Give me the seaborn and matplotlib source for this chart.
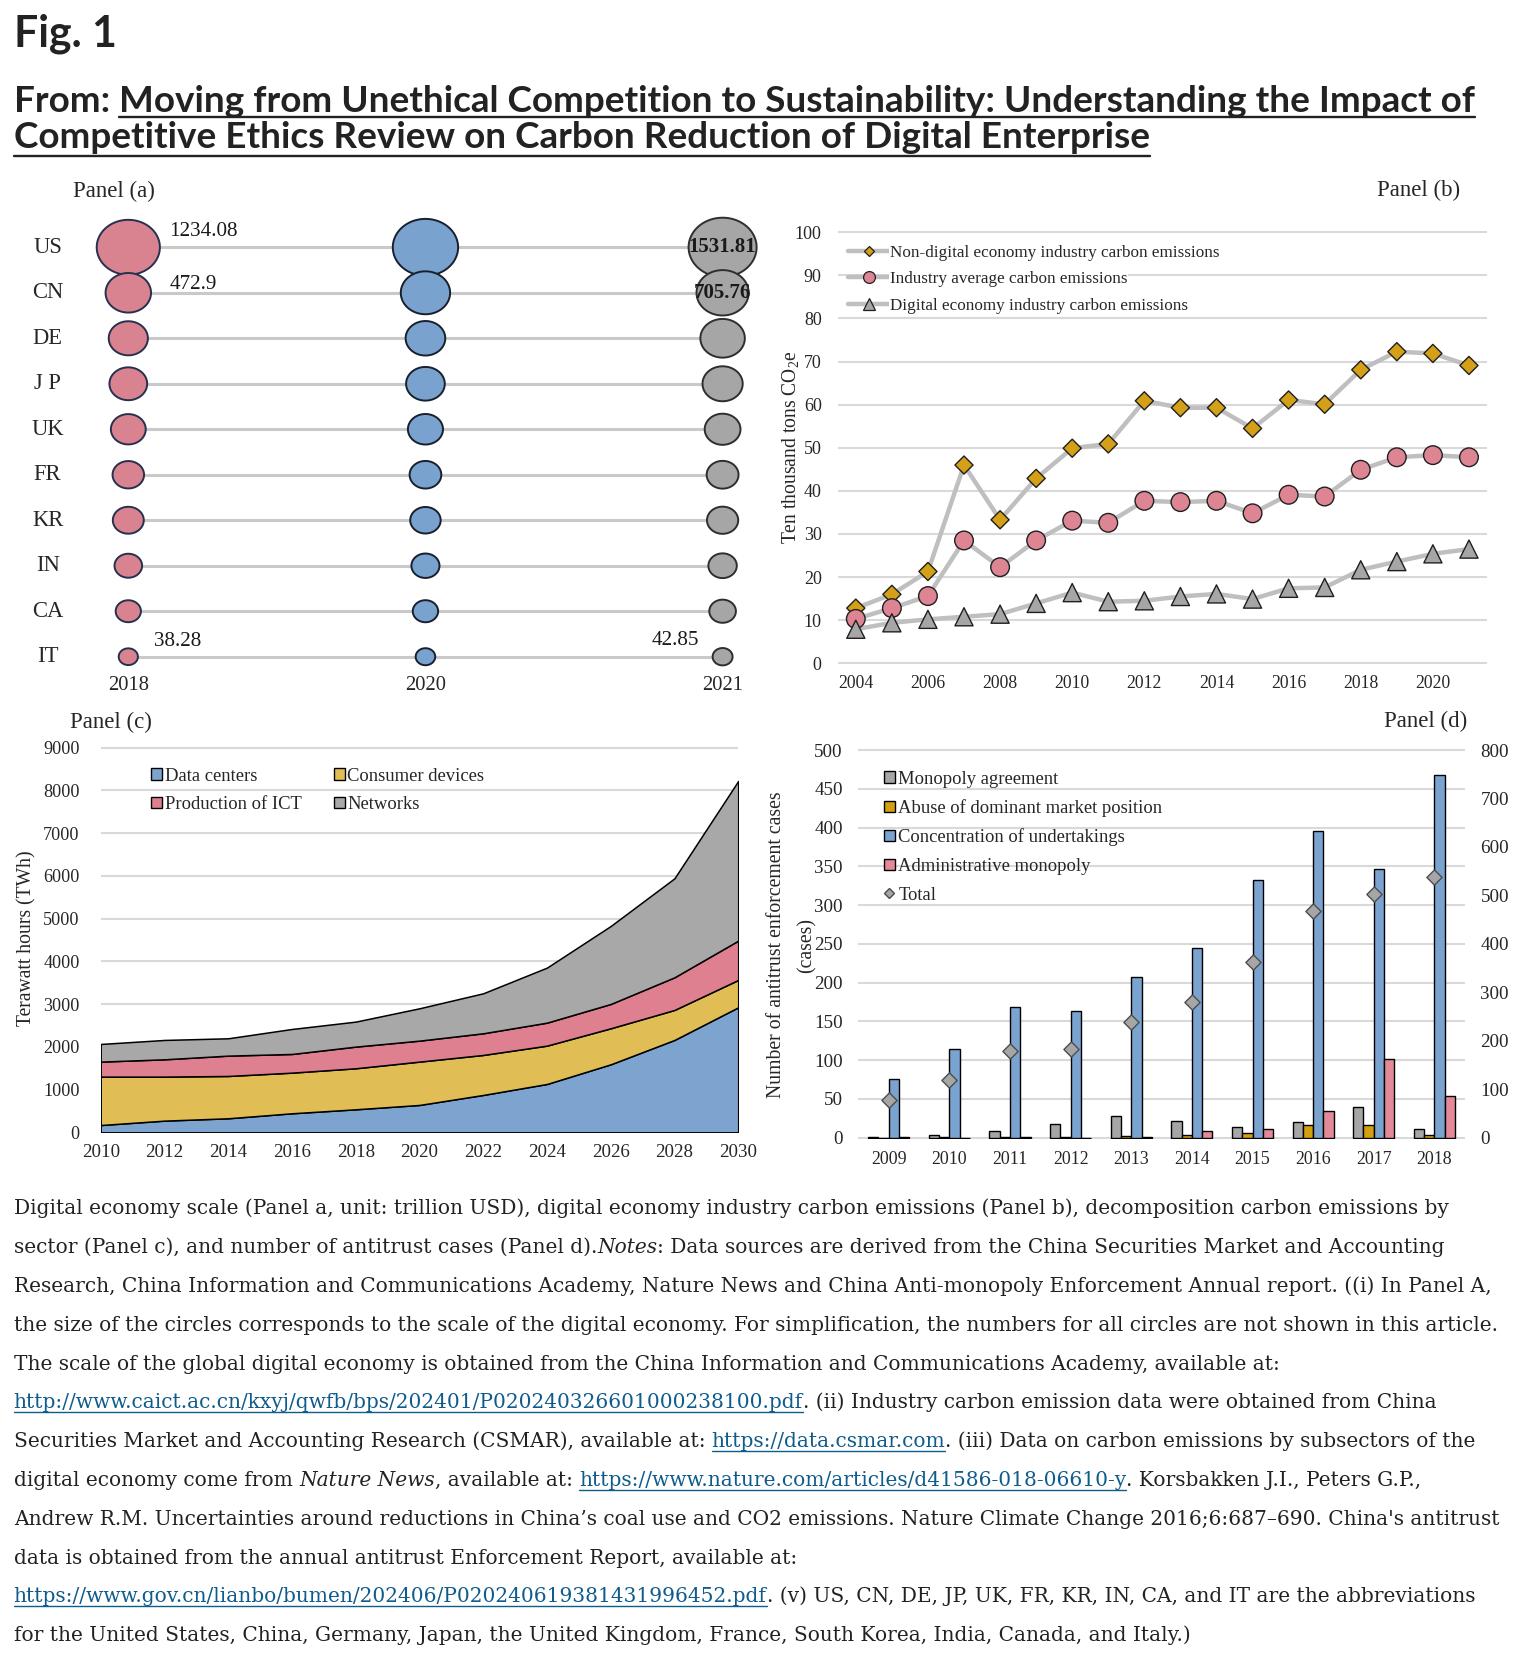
import numpy as np
import pandas as pd
import matplotlib
matplotlib.use("Agg")
import matplotlib.pyplot as plt
import seaborn as sns
from matplotlib.patches import Patch
from matplotlib.lines import Line2D
from matplotlib.path import Path

# ---------------- data ----------------
# Panel (a): digital economy scale
countries = ["US", "CN", "DE", "J P", "UK", "FR", "KR", "IN", "CA", "IT"]
years_a = ["2018", "2020", "2021"]
scale_2018 = [1234.08, 472.9, 306, 275, 218, 162, 154, 110, 85, 38.28]
scale_2020 = [1360, 600, 317, 295, 222, 165, 147, 116, 86, 40.5]
scale_2021 = [1531.81, 705.76, 443, 330, 235, 168, 158, 120, 99, 42.85]

# Panel (b): carbon emissions (ten thousand tons CO2e)
years_b = [2004, 2005, 2006, 2007, 2008, 2009, 2010, 2011, 2012,
           2013, 2014, 2015, 2016, 2017, 2018, 2019, 2020, 2021]
series_b = ["Non-digital economy industry carbon emissions",
            "Industry average carbon emissions",
            "Digital economy industry carbon emissions"]
non_digital = [12.8, 16.0, 21.3, 46.0, 33.3, 42.9, 49.9, 50.9, 60.9,
               59.3, 59.3, 54.5, 61.1, 60.1, 68.1, 72.3, 71.9, 69.1]
industry_avg = [10.3, 12.8, 15.6, 28.5, 22.3, 28.5, 33.1, 32.6, 37.7,
                37.4, 37.7, 34.8, 39.1, 38.7, 44.9, 47.8, 48.3, 47.8]
digital = [7.9, 9.4, 10.2, 10.8, 11.4, 13.9, 16.4, 14.3, 14.5,
           15.5, 16.1, 14.9, 17.4, 17.6, 21.7, 23.6, 25.4, 26.5]

# Panel (c): electricity use by sector (TWh)
years_c = [2010, 2012, 2014, 2016, 2018, 2020, 2022, 2024, 2026, 2028, 2030]
sectors_c = ["Data centers", "Consumer devices", "Production of ICT", "Networks"]
data_centers = [170, 273, 328, 445, 538, 640, 874, 1131, 1591, 2161, 2925]
consumer_devices = [1133, 1030, 990, 951, 960, 1014, 936, 897, 843, 702, 640]
production_ict = [351, 405, 476, 437, 507, 491, 507, 538, 569, 764, 920]
networks = [413, 453, 406, 585, 585, 757, 936, 1288, 1825, 2317, 3737]

# Panel (d): antitrust enforcement cases
years_d = ["2009", "2010", "2011", "2012", "2013", "2014", "2015", "2016", "2017", "2018"]
case_types = ["Monopoly agreement", "Abuse of dominant market position",
              "Concentration of undertakings", "Administrative monopoly"]
monopoly_agreement = [1, 4, 8, 18, 28, 22, 14, 20, 39, 11]
abuse_dominance = [0, 1, 1, 1, 2, 4, 6, 16, 16, 4]
concentration = [76, 114, 168, 163, 207, 245, 332, 396, 346, 468]
admin_monopoly = [1, 0, 1, 0, 1, 9, 11, 35, 102, 54]
total_cases = [78, 119, 178, 182, 238, 280, 363, 467, 503, 537]

# ---------------- setup ----------------
W, H, DPI = 1530, 1667, 100
sns.set_theme(style="white")
plt.rcParams["font.family"] = ["Liberation Serif", "DejaVu Serif"]
plt.rcParams["mathtext.default"] = "regular"

TXT = "#262626"
GRID = "#D9D9D9"
fig = plt.figure(figsize=(W / DPI, H / DPI), dpi=DPI, facecolor="white")


def add_ax(x0, y0, x1, y1):
    return fig.add_axes([x0 / W, 1 - y1 / H, (x1 - x0) / W, (y1 - y0) / H])


def lin(pa, va, pb, vb, v):
    return pa + (v - va) * (pb - pa) / (vb - va)


def ftext(x, y, s, **kw):
    return fig.text(x / W, 1 - y / H, s, **kw)


def clean(ax):
    for s in ax.spines.values():
        s.set_visible(False)
    ax.set_xlabel("")
    ax.set_ylabel("")


# ================= Panel (a) =================
AX0, AY0, ADX, ADY = 128.3, 247.3, 297.15, 45.49
ax_a = add_ax(0, 180, 760, 700)
df_a = pd.DataFrame({
    "country": countries * len(years_a),
    "row": list(range(len(countries))) * len(years_a),
    "year": np.repeat(years_a, len(countries)),
    "value": scale_2018 + scale_2020 + scale_2021,
})
df_a["pos"] = df_a["year"].map({y: i for i, y in enumerate(years_a)})
df_a["area"] = (5.5 * df_a["value"] ** 0.343 * 72 / DPI) ** 2
amin, amax = df_a["area"].min(), df_a["area"].max()

theta = np.linspace(0, 2 * np.pi, 73)
ellipse = Path(np.column_stack([np.cos(theta), 0.87 * np.sin(theta)]), closed=True)

ax_a.hlines(range(len(countries)), 0, len(years_a) - 1, colors="#C9C9C9", lw=2.2, zorder=1)
fills = {"2018": "#D98391", "2020": "#7AA2CE", "2021": "#A6A6A6"}
edges = {"2018": "#26304F", "2020": "#18202E", "2021": "#2E2E2E"}
for y in years_a:
    sub = df_a[df_a["year"] == y]
    sns.scatterplot(data=sub, x="pos", y="row", size="area", sizes=(amin, amax),
                    size_norm=(amin, amax), color=fills[y], edgecolor=edges[y],
                    linewidth=1.4, marker=ellipse, legend=False, ax=ax_a, zorder=3)
ax_a.set_xlim((0 - AX0) / ADX, (760 - AX0) / ADX)
ax_a.set_ylim((700 - AY0) / ADY, (180 - AY0) / ADY)
ax_a.axis("off")

for i, c in enumerate(countries):
    ax_a.text((47.7 - AX0) / ADX, i, c, ha="center", va="center", fontsize=16.3, color=TXT)
for j, y in enumerate(years_a):
    ax_a.text(j, (685 - AY0) / ADY, y, ha="center", va="center", fontsize=14.8, color=TXT)


def lab(v):
    return f"{v:g}"


ann = dict(textcoords="offset points", fontsize=15.2, color="#1a1a1a", va="center")
last = len(countries) - 1
ax_a.annotate(lab(scale_2018[0]), xy=(0, 0), xytext=(29.6, 11.7), ha="left", **ann)
ax_a.annotate(lab(scale_2018[1]), xy=(0, 1), xytext=(29.6, 6.0), ha="left", **ann)
ax_a.annotate(lab(scale_2018[last]), xy=(0, last), xytext=(18.4, 10.8), ha="left", **ann)
ax_a.annotate(lab(scale_2021[last]), xy=(2, last), xytext=(-16.7, 12.0), ha="right", **ann)
ax_a.annotate(lab(scale_2021[0]), xy=(2, 0), xytext=(0, 0), ha="center",
              fontweight="bold", **{**ann, "fontsize": 15})
ax_a.annotate(lab(scale_2021[1]), xy=(2, 1), xytext=(0, 0), ha="center",
              fontweight="bold", **{**ann, "fontsize": 15})
ftext(72.6, 191.7, "Panel (a)", ha="left", va="center", fontsize=16.5, color=TXT)

# ================= Panel (b) =================
bx0 = lin(855.8, 2004, 1432.9, 2020, 2003.5)
bx1 = lin(855.8, 2004, 1432.9, 2020, 2021.5)
by0 = lin(663.3, 0, 232.3, 100, 100.6)
by1 = lin(663.3, 0, 232.3, 100, -0.6)
ax_b = add_ax(bx0, by0, bx1, by1)
df_b = pd.DataFrame({
    "year": years_b * 3,
    "value": non_digital + industry_avg + digital,
    "series": np.repeat(series_b, len(years_b)),
})
face_b = dict(zip(series_b, ["#D4A017", "#DE8593", "#A6A6A6"]))
mark_b = dict(zip(series_b, ["D", "o", "^"]))
size_b = dict(zip(series_b, [85, 180, 170]))
sns.lineplot(data=df_b, x="year", y="value", hue="series",
             palette={s: "#BFBFBF" for s in series_b}, lw=3.2, errorbar=None,
             legend=False, ax=ax_b, zorder=2)
sns.scatterplot(data=df_b, x="year", y="value", hue="series", style="series",
                size="series", palette=face_b, markers=mark_b, sizes=size_b,
                edgecolor="#1F1F1F", linewidth=1.0, legend=False, ax=ax_b,
                zorder=3, clip_on=False)
ax_b.set_xlim(2003.5, 2021.5)
ax_b.set_ylim(-0.6, 100.6)
ax_b.set_yticks(range(0, 101, 10))
ax_b.set_xticks(range(2004, 2021, 2))
ax_b.grid(axis="y", color=GRID, lw=1.5)
ax_b.grid(axis="x", visible=False)
ax_b.set_axisbelow(True)
clean(ax_b)
ax_b.tick_params(axis="y", labelsize=13, pad=11.6, length=0, colors=TXT)
ax_b.tick_params(axis="x", labelsize=12.7, pad=6.5, length=0, colors=TXT)
ax_b.set_ylabel("Ten thousand tons CO$_2$e", fontsize=14.1, color=TXT, va="center")
ax_b.yaxis.set_label_coords((790.5 - bx0) / (bx1 - bx0), (by1 - 446.7) / (by1 - by0))
hb = [Line2D([], [], color="#BFBFBF", lw=3.2, marker=mark_b[s],
             markersize=ms, markerfacecolor=face_b[s], markeredgecolor="#1F1F1F",
             markeredgewidth=0.9) for s, ms in zip(series_b, [5.2, 8.5, 8.0])]
leg = ax_b.legend(hb, series_b, loc="upper left", bbox_to_anchor=(848.4 / W, 1 - 245 / H),
                  bbox_transform=fig.transFigure, frameon=False, fontsize=12.3,
                  handlelength=2.36, handletextpad=0.06, labelspacing=0.6,
                  borderpad=0, borderaxespad=0)
for t in leg.get_texts():
    t.set_color(TXT)
    t.set_bbox(dict(facecolor="white", edgecolor="none", pad=0.5))
ftext(1460, 190.7, "Panel (b)", ha="right", va="center", fontsize=16.5, color=TXT)

# ================= Panel (c) =================
cx0, cx1 = 100.7, 738.2
cy0 = lin(1132.3, 0, 747.7, 9000, 9060)
cy1 = 1132.3
ax_c = add_ax(cx0, cy0, cx1, cy1)
colors_c = ["#7DA4CF", "#E1BE55", "#DE8090", "#A8A8A8"]
ax_c.stackplot(years_c, data_centers, consumer_devices, production_ict, networks,
               colors=colors_c, edgecolor="black", linewidth=1.1, zorder=2)
sns.despine(ax=ax_c, left=True, bottom=True)
ax_c.set_xlim(2010, 2030)
ax_c.set_ylim(0, 9060)
ax_c.set_yticks(range(0, 9001, 1000))
ax_c.set_xticks(range(2010, 2031, 2))
ax_c.grid(axis="y", color=GRID, lw=1.5)
ax_c.grid(axis="x", visible=False)
ax_c.set_axisbelow(True)
clean(ax_c)
ax_c.tick_params(axis="y", labelsize=13.1, pad=15.2, length=0, colors=TXT)
ax_c.tick_params(axis="x", labelsize=13.6, pad=8.6, length=0, colors=TXT)
ax_c.set_ylabel("Terawatt hours (TWh)", fontsize=14.1, color=TXT, va="center")
ax_c.yaxis.set_label_coords((27 - cx0) / (cx1 - cx0), (cy1 - 938) / (cy1 - cy0))
hc = [Patch(facecolor=c, edgecolor="black", lw=1.0) for c in colors_c]
order = [0, 2, 1, 3]
leg = ax_c.legend([hc[i] for i in order], [sectors_c[i] for i in order], ncol=2,
                  loc="upper left", bbox_to_anchor=(151.3 / W, 1 - 767.6 / H),
                  bbox_transform=fig.transFigure, frameon=False, fontsize=13.4,
                  handlelength=0.58, handleheight=0.55, handletextpad=0.13,
                  labelspacing=0.6, columnspacing=1.75, borderpad=0, borderaxespad=0)
for t in leg.get_texts():
    t.set_color(TXT)
ftext(69.7, 722.7, "Panel (c)", ha="left", va="center", fontsize=16.5, color=TXT)

# ================= Panel (d) =================
dx0 = lin(888.7, 0, 1434.4, 9, -0.5)
dx1 = lin(888.7, 0, 1434.4, 9, 9.5)
dy0 = lin(1137.7, 0, 750, 500, 503)
dy1 = lin(1137.7, 0, 750, 500, -1.5)
ax_d = add_ax(dx0, dy0, dx1, dy1)
colors_d = ["#A6A6A6", "#D4A010", "#7BA3D0", "#E4899A"]
df_d = pd.DataFrame({
    "year": years_d * 4,
    "cases": monopoly_agreement + abuse_dominance + concentration + admin_monopoly,
    "type": np.repeat(case_types, len(years_d)),
})
sns.barplot(data=df_d, x="year", y="cases", hue="type", hue_order=case_types,
            palette=dict(zip(case_types, colors_d)), width=0.68, saturation=1,
            edgecolor="black", linewidth=1.0, errorbar=None, legend=False,
            ax=ax_d, zorder=3)
ax_d.set_xlim(-0.5, 9.5)
ax_d.set_ylim(-1.5, 503)
ax_d.set_yticks(range(0, 501, 50))
ax_d.grid(axis="y", color=GRID, lw=1.5)
ax_d.grid(axis="x", visible=False)
ax_d.set_axisbelow(True)
clean(ax_d)
ax_d.tick_params(axis="y", labelsize=13.7, pad=11.3, length=0, colors=TXT)
ax_d.tick_params(axis="x", labelsize=12.9, pad=8.6, length=0, colors=TXT)
ax_d.set_ylabel("Number of antitrust enforcement cases\n(cases)", fontsize=14.2,
                color=TXT, va="center", linespacing=1.8)
ax_d.yaxis.set_label_coords((792 - dx0) / (dx1 - dx0), (dy1 - 945) / (dy1 - dy0))

ax_d2 = add_ax(dx0, dy0, dx1, dy1)
sns.scatterplot(x=years_d, y=total_cases, marker="D", s=60, color="#A6A6A6",
                edgecolor="#4D4D4D", linewidth=1.0, ax=ax_d2, legend=False,
                zorder=5, clip_on=False)
ax_d2.set_xlim(-0.5, 9.5)
ax_d2.set_ylim(-1.5 * 1.6, 503 * 1.6)
ax_d2.patch.set_visible(False)
ax_d2.yaxis.tick_right()
ax_d2.set_yticks(range(0, 801, 100))
ax_d2.set_xticks([])
ax_d2.grid(False)
clean(ax_d2)
ax_d2.tick_params(axis="y", labelsize=13.7, pad=11.3, length=0, colors=TXT)
hd = [Patch(facecolor=c, edgecolor="black", lw=1.0) for c in colors_d]
hd.append(Line2D([], [], ls="none", marker="D", markersize=5.5,
                 markerfacecolor="#A6A6A6", markeredgecolor="#4D4D4D"))
leg = ax_d2.legend(hd, case_types + ["Total"], loc="upper left",
                   bbox_to_anchor=(883.8 / W, 1 - 770.6 / H),
                   bbox_transform=fig.transFigure, frameon=False, fontsize=13.4,
                   handlelength=0.58, handleheight=0.55, handletextpad=0.2,
                   labelspacing=0.62, borderpad=0, borderaxespad=0)
for t in leg.get_texts():
    t.set_color(TXT)
ftext(1467.3, 721.7, "Panel (d)", ha="right", va="center", fontsize=16.5, color=TXT)

# ================= Title and caption =================
renderer = fig.canvas.get_renderer()
LINK = "#0F5C8C"
DARK = "#222222"


def measure(s, **kw):
    t = fig.text(0, 0, s, **kw)
    w = t.get_window_extent(renderer).width
    t.remove()
    return w


def advance(s, **kw):
    return measure("|" + s + "|", **kw) - measure("||", **kw)


def line_width(runs, size, family, weight="normal"):
    total = 0
    for txt, kind in runs:
        kw = dict(fontsize=size, family=family, weight=weight,
                  style="italic" if kind == "i" else "normal")
        total += advance(txt, **kw)
    return total


def draw_line(x0, base, runs, size, family, weight="normal", color=DARK,
              ul_off=4.0, ul_lw=1.0):
    x = x0
    sp = advance(" ", fontsize=size, family=family, weight=weight)
    for txt, kind in runs:
        kw = dict(fontsize=size, family=family, weight=weight,
                  style="italic" if kind == "i" else "normal")
        col = LINK if kind == "link" else color
        lead = len(txt) - len(txt.lstrip(" "))
        trail = len(txt) - len(txt.rstrip(" "))
        core = txt.strip(" ")
        x += lead * sp
        fig.text(x / W, 1 - base / H, core, color=col, ha="left", va="baseline", **kw)
        w = advance(core, **kw)
        if kind in ("link", "u"):
            fig.add_artist(Line2D([x / W, (x + w) / W], [1 - (base + ul_off) / H] * 2,
                                  transform=fig.transFigure, color=col, lw=ul_lw))
        x += w + trail * sp
    return x


TITLE_FAM = ["Lato", "DejaVu Sans"]
fig_runs = [("Fig. 1", "n")]
s0 = 30
fs_fig = s0 * 103 / line_width(fig_runs, s0, TITLE_FAM, "bold")
draw_line(13.7, 46, fig_runs, fs_fig, TITLE_FAM, "bold")

title_lines = [
    [("From: ", "n"),
     ("Moving from Unethical Competition to Sustainability: Understanding the Impact of", "u")],
    [("Competitive Ethics Review on Carbon Reduction of Digital Enterprise", "u")],
]
s0 = 22
r1 = 1469 / line_width(title_lines[0], s0, TITLE_FAM, "bold")
r2 = 1126 / line_width(title_lines[1], s0, TITLE_FAM, "bold")
fs_title = s0 * (r1 + r2) / 2
draw_line(13.7, 111.7, title_lines[0], fs_title, TITLE_FAM, "bold", ul_off=5.5, ul_lw=1.7)
draw_line(13.7, 148.3, title_lines[1], fs_title, TITLE_FAM, "bold", ul_off=7.5, ul_lw=1.7)

CAP_FAM = ["DejaVu Serif"]
caption = [
    [("Digital economy scale (Panel a, unit: trillion USD), digital economy industry carbon emissions (Panel b), decomposition carbon emissions by", "n")],
    [("sector (Panel c), and number of antitrust cases (Panel d).", "n"), ("Notes", "i"),
     (": Data sources are derived from the China Securities Market and Accounting", "n")],
    [("Research, China Information and Communications Academy, Nature News and China Anti-monopoly Enforcement Annual report. ((i) In Panel A,", "n")],
    [("the size of the circles corresponds to the scale of the digital economy. For simplification, the numbers for all circles are not shown in this article.", "n")],
    [("The scale of the global digital economy is obtained from the China Information and Communications Academy, available at:", "n")],
    [("http://www.caict.ac.cn/kxyj/qwfb/bps/202401/P020240326601000238100.pdf", "link"),
     (". (ii) Industry carbon emission data were obtained from China", "n")],
    [("Securities Market and Accounting Research (CSMAR), available at: ", "n"),
     ("https://data.csmar.com", "link"),
     (". (iii) Data on carbon emissions by subsectors of the", "n")],
    [("digital economy come from ", "n"), ("Nature News", "i"), (", available at: ", "n"),
     ("https://www.nature.com/articles/d41586-018-06610-y", "link"),
     (". Korsbakken J.I., Peters G.P.,", "n")],
    [("Andrew R.M. Uncertainties around reductions in China\u2019s coal use and CO2 emissions. Nature Climate Change 2016;6:687\u2013690. China's antitrust", "n")],
    [("data is obtained from the annual antitrust Enforcement Report, available at:", "n")],
    [("https://www.gov.cn/lianbo/bumen/202406/P020240619381431996452.pdf", "link"),
     (". (v) US, CN, DE, JP, UK, FR, KR, IN, CA, and IT are the abbreviations", "n")],
    [("for the United States, China, Germany, Japan, the United Kingdom, France, South Korea, India, Canada, and Italy.)", "n")],
]
cap_right = [1460.5, 1433, 1504, 1485, 1281, 1462, 1474, 1456, 1491, 792, 1481, 1434]
s0 = 14
widths = [line_width(r, s0, CAP_FAM) for r in caption]
ratios = [(rt - 13.7) / w for rt, w in zip(cap_right, widths)]
fs_cap = s0 * float(np.median(ratios))
max_w = max(widths) * fs_cap / s0
if 13.7 + max_w > 1522:
    fs_cap *= (1522 - 13.7) / max_w
for i, runs in enumerate(caption):
    draw_line(13.7, 1214.3 + 38.8 * i, runs, fs_cap, CAP_FAM, ul_off=4.0, ul_lw=1.0)

fig.savefig("out.png", dpi=DPI, facecolor="white")
